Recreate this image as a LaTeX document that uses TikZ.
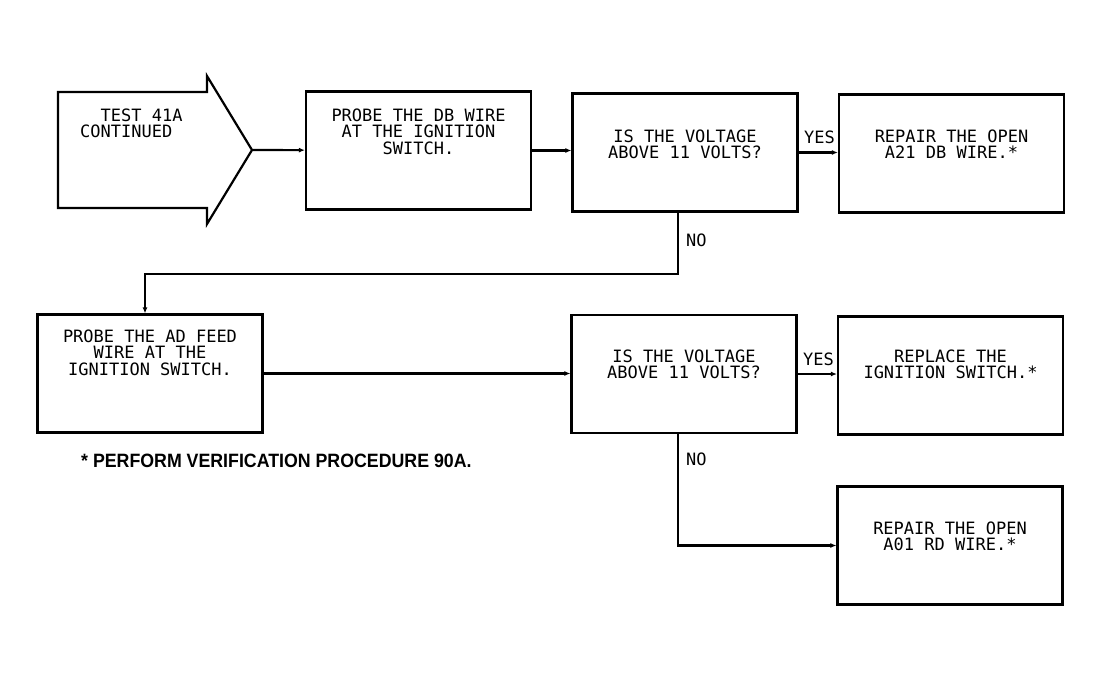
\documentclass[tikz,border=0pt]{standalone}
\usepackage{fontspec}
\usepackage{tikz}
\usetikzlibrary{positioning}
\usetikzlibrary{arrows.meta}
\newfontfamily\plotfont{DejaVu Sans Mono}
\newfontfamily\notefont[FakeStretch=0.92]{Liberation Sans}
\tikzstyle{box}=[rectangle,draw,line width=2.2pt,minimum width=225pt,minimum height=118pt,inner sep=0pt]
\tikzstyle{txt}=[font=\plotfont\fontsize{17}{16.5}\selectfont,align=center,inner sep=0pt]
\tikzstyle{edge} = [draw,line width=2.2pt,-{Latex[length=6pt,width=5pt]}]
\tikzstyle{yeslbl} = [txt,anchor=base east,yshift=9pt,xshift=-2pt]
\tikzstyle{nolbl} = [txt,anchor=base west,xshift=7pt]

\begin{document}
\begin{tikzpicture}[x=1pt,y=-1pt]

  \useasboundingbox (0,0) rectangle (1102,681);

  % entry arrow
  \draw[line width=2.2pt] (58,92) -- (207,92) -- (207,76) -- (252,150) -- (207,224) -- (207,208) -- (58,208) -- cycle;
  \coordinate (tip) at (252,150);
  \node[txt, align=left, anchor=north west] (starttxt) at (80,108.6) {\hphantom{TE}TEST 41A\\CONTINUED};

  \foreach \x/\y/\name in {418.5/150.5/probe1, 685/152.5/volt1, 951.5/153.5/repair1,
                           150/373.5/probe2, 684/374/volt2, 950.5/375.5/replace, 950/545.5/repair2}
          \node[box] (\name) at (\x,\y) {};

  \foreach \name/\gap/\txt in {probe1/18pt/{PROBE THE DB WIRE\\AT THE IGNITION\\SWITCH.},
                               volt1/37pt/{IS THE VOLTAGE\\ABOVE 11 VOLTS?},
                               repair1/36pt/{REPAIR THE OPEN\\A21 DB WIRE.*},
                               probe2/16pt/{PROBE THE AD FEED\\WIRE AT THE\\IGNITION SWITCH.},
                               volt2/35.6pt/{IS THE VOLTAGE\\ABOVE 11 VOLTS?},
                               replace/34pt/{REPLACE THE\\IGNITION SWITCH.*},
                               repair2/36pt/{REPAIR THE OPEN\\A01 RD WIRE.*}}
          \node[txt, below=\gap of \name.north] (\name-t) {\txt};

  \path[edge] (tip) -- (probe1);
  \path[edge] (probe1.east) -- (probe1.east -| volt1.west);
  \path[edge] (volt1.east) -- node[yeslbl,pos=1] {YES} (volt1.east -| repair1.west);
  \path[edge] ([xshift=-7pt]volt1.south) -- node[nolbl,pos=0.55] {NO} ++(0,61) -| ([xshift=-5pt]probe2.north);

  \path[edge] (probe2.east) -- (probe2.east -| volt2.west);
  \path[edge] (volt2.east) -- node[yeslbl,pos=1] {YES} (volt2.east -| replace.west);
  \path[edge] ([xshift=-6pt]volt2.south) |- node[nolbl,pos=0.14] {NO} (repair2.west);

  % footnote
  \node[anchor=base west, inner sep=0pt, font=\notefont\bfseries\fontsize{19.3}{19.3}\selectfont] (note) at (81,467) {* PERFORM VERIFICATION PROCEDURE 90A.};

\end{tikzpicture}
\end{document}
